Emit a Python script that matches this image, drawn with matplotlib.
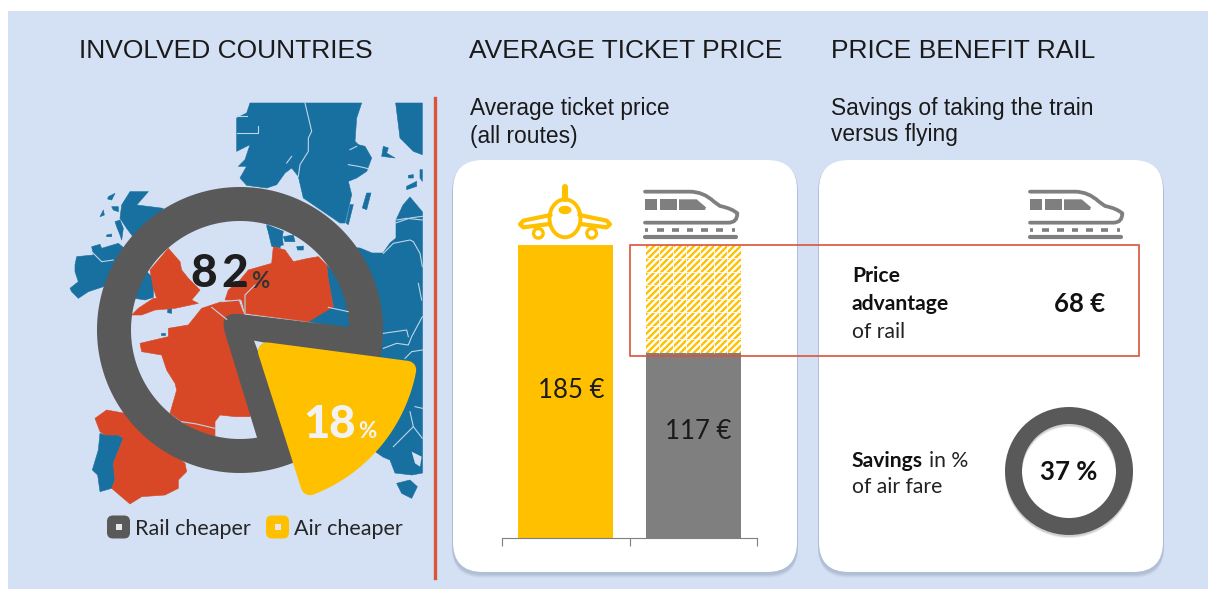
#!/usr/bin/env python

import numpy as np
import matplotlib
matplotlib.use("Agg")
import matplotlib.pyplot as plt
from matplotlib.patches import Circle, FancyBboxPatch, PathPatch, Polygon, Rectangle
from matplotlib.path import Path

plt.rcParams["hatch.linewidth"] = 1.7

# values
share_labels = ["Rail cheaper", "Air cheaper"]
share_values = [82, 18]
price_labels = ["Air", "Rail"]
price_values = [185, 117]
advantage = 68
savings_pct = 37

SEA = "#D4E0F3"
BLUE = "#17709F"
RED = "#D84826"
DARK = "#595959"
GREY = "#7F7F7F"
YELLOW = "#FFC000"
LINE_RED = "#D9553A"
ARIAL = "Liberation Sans"
BODY = "Lato"

CROP_HOLE = (125, 220)
CROP_NORTH = (230, 98)
CROP_WEST = (65, 185)
CROP_SPAIN = (85, 400)
CROP_EAST = (340, 210)

blue_shapes = [
    (CROP_NORTH, [(60,15),(395,15),(380,60),(375,130),(385,140),(405,145),(425,180),(410,220),(380,240),(355,250),
                  (365,290),(345,375),(330,375),(220,300),(205,235),(185,210),(165,225),(140,260),(110,270),(50,262),
                  (30,240),(50,205),(25,205),(45,185),(60,140),(20,160),(20,90),(20,60),(50,45)]),
    (CROP_NORTH, [(497,15),(577,15),(577,170),(550,160),(510,120)]),
    (CROP_NORTH, [(410,285),(423,285),(410,335),(397,330)]),
    (CROP_NORTH, [(360,320),(370,320),(355,380),(348,375)]),
    (CROP_NORTH, [(460,145),(475,150),(470,165),(495,180),(455,175)]),
    (CROP_NORTH, [(530,265),(560,250),(560,265),(530,275)]),
    (CROP_NORTH, [(535,232),(550,230),(550,240),(535,240)]),
    (CROP_NORTH, [(570,215),(577,215),(577,250),(570,240)]),
    (CROP_NORTH, [(110,380),(160,400),(150,450),(125,445)]),
    ((0, 0), [(340,247),(360,248),(372,253),(383,253),(390,243),(396,238),(396,220),(403,205),(410,197),(422.5,212),
              (422.5,473),(412,475),(395,473),(390,460),(383,457),(330,420),(350,300)]),
    (CROP_EAST, [(170,820),(210,810),(232,830),(215,865),(185,850)]),
    (CROP_HOLE, [(605,135),(650,180),(690,330),(550,305),(610,262),(625,260),(610,180)]),
    (CROP_HOLE, [(425,20),(470,40),(475,75),(445,80),(440,60)]),
    (CROP_HOLE, [(475,50),(505,45),(510,65),(480,65)]),
    (CROP_HOLE, [(515,80),(535,78),(535,90),(518,90)]),
    (CROP_HOLE, [(30,235),(60,150),(85,175),(85,232),(60,240)]),
    (CROP_HOLE, [(128,268),(140,265),(140,280),(128,278)]),
    (CROP_HOLE, [(108,340),(120,340),(120,346),(108,346)]),
    (CROP_WEST, [(35,215),(85,210),(80,185),(105,178),(110,190),(160,175),(190,200),(150,250),(130,300),(70,320),
                 (40,340),(20,320),(15,310),(40,290),(30,260),(30,240)]),
    (CROP_WEST, [(195,20),(250,20),(215,60),(295,70),(260,130),(215,170),(185,130),(165,100),(170,60)]),
    (CROP_WEST, [(130,35),(150,25),(140,45),(128,42)]),
    (CROP_WEST, [(140,65),(160,65),(160,80),(145,75)]),
    (CROP_WEST, [(105,95),(115,75),(118,90)]),
    (CROP_WEST, [(150,110),(165,105),(175,130),(170,165),(165,150),(155,125)]),
    (CROP_WEST, [(125,150),(140,147),(140,155),(125,155)]),
    (CROP_SPAIN, [(45,100),(60,105),(100,105),(115,115),(85,190),(90,240),(80,265),(45,275),(38,225),(22,210),(40,150)]),
]
red_shapes = [
    (CROP_HOLE, [(130,85),(165,125),(170,150),(190,175),(225,210),(200,240),(220,250),(150,265),(90,270),(50,285),
                 (20,285),(40,265),(85,235),(95,235),(85,205),(75,150)]),
    (CROP_HOLE, [(45,370),(130,350),(130,325),(190,315),(230,265),(260,255),(290,245),(340,240),(360,290),(400,500),
                 (375,590),(330,590),(285,585),(270,605),(270,650),(220,640),(170,605),(135,580),(155,510),(150,490),
                 (125,450),(110,405),(50,395)]),
    (CROP_HOLE, [(310,210),(345,180),(370,150),(440,130),(445,80),(480,90),(505,125),(550,115),(580,110),(605,135),
                 (610,180),(625,260),(550,305),(360,280),(350,240),(300,240)]),
    (CROP_SPAIN, [(30,55),(65,30),(120,40),(200,100),(300,190),(305,215),(280,240),(280,265),(240,285),(170,290),
                  (135,312),(115,295),(80,265),(90,240),(85,190),(115,115),(100,105),(60,105),(45,95)]),
]
sea_shapes = [
    (CROP_EAST, [(215,725),(245,740),(240,770),(225,760)]),
]
border_lines = [
    (CROP_NORTH, [(225,15),(245,100),(235,120),(235,160),(210,200),(205,235)]),
    (CROP_NORTH, [(360,155),(380,145)]),
    (CROP_NORTH, [(355,200),(385,205),(415,212)]),
    (CROP_NORTH, [(20,55),(50,55)]),
    (CROP_NORTH, [(20,105),(85,105),(85,85)]),
    (CROP_NORTH, [(170,195),(185,175)]),
    (CROP_NORTH, [(497,375),(540,360),(577,355)]),
    (CROP_HOLE, [(610,262),(670,275)]),
    (CROP_HOLE, [(260,262),(305,298)]),
    (CROP_HOLE, [(290,245),(345,240),(355,272)]),
    (CROP_HOLE, [(360,280),(360,225),(390,195)]),
    (CROP_HOLE, [(170,605),(215,612),(270,625)]),
    (CROP_WEST, [(80,200),(110,230),(145,225)]),
    (CROP_EAST, [(170,30),(200,25),(247,30)]),
    (CROP_EAST, [(130,130),(160,100),(210,90),(220,95),(240,130),(247,170)]),
    (CROP_EAST, [(235,220),(245,270)]),
    (CROP_EAST, [(130,370),(200,360),(205,380)]),
    (CROP_EAST, [(130,415),(170,400),(205,405),(215,380),(247,320)]),
    (CROP_EAST, [(195,445),(215,425),(247,420)]),
    (CROP_EAST, [(225,590),(247,595)]),
    (CROP_EAST, [(210,605),(220,650),(160,710)]),
    (CROP_EAST, [(220,650),(247,685)]),
]


def crop_pts(origin, pts):
    return [(origin[0] + x / 3, origin[1] + y / 3) if origin != (0, 0) else (x, y) for x, y in pts]


def arc(cx, cy, r, a0, a1, n=90):
    t = np.radians(np.linspace(a0, a1, n))
    return np.column_stack([cx + r * np.cos(t), cy + r * np.sin(t)])


def draw_card(ax, x0, y0, x1, y1, r=30):
    box = "round,pad=0,rounding_size=%d" % r
    for off, alpha in [(5, 0.05), (4, 0.08), (3, 0.10), (2, 0.14)]:
        ax.add_patch(FancyBboxPatch((x0 - 1, y0 + off - 1), x1 - x0 + 2, y1 - y0 + 2, boxstyle=box,
                                    fc="#6E7F99", ec="none", alpha=alpha))
    ax.add_patch(FancyBboxPatch((x0, y0), x1 - x0, y1 - y0, boxstyle=box, fc="white", ec="none"))


def draw_train(ax, dx):
    # 3x crop at (490, 170)
    def t(pts):
        return [(490 + x / 3 + dx, 170 + y / 3) for x, y in pts]
    body = [(465,65),(600,65),(640,65),(672,95),(690,108),(725,115),(742,130),(742,158),(715,158),(465,158)]
    verts = t(body)
    codes = [Path.MOVETO, Path.LINETO, Path.CURVE3, Path.CURVE3, Path.LINETO, Path.CURVE3, Path.CURVE3,
             Path.CURVE3, Path.CURVE3, Path.LINETO]
    ax.add_patch(PathPatch(Path(verts, codes), fc="none", ec=GREY, lw=2.7, capstyle="round", joinstyle="round"))
    for win in ([(465,88),(500,88),(500,120),(465,120)], [(510,88),(560,88),(560,120),(510,120)],
                [(567,88),(620,88),(648,112),(645,120),(567,120)]):
        ax.add_patch(Polygon(t(win), fc=GREY, ec="none"))
    ax.plot(*zip(*t([(464,200),(738,200)])), color=GREY, lw=3, solid_capstyle="round")
    for x in [470, 512, 556, 600, 644, 688, 730]:
        w = 4 if x in (470, 730) else 10
        ax.plot(*zip(*t([(x - w, 181),(x + w, 181)])), color=GREY, lw=2.6, solid_capstyle="butt")


def draw_plane(ax):
    def t(pts):
        return [(490 + x / 3, 170 + y / 3) for x, y in pts]
    kw = dict(color=YELLOW, lw=3, solid_capstyle="round", solid_joinstyle="round")
    ax.plot(*zip(*t([(225,50),(225,88)])), color=YELLOW, lw=4.4, solid_capstyle="round")
    ax.plot(*zip(*t([(182,135),(100,152),(90,163),(100,172),(178,162)])), **kw)
    ax.plot(*zip(*t([(268,135),(350,152),(360,163),(350,172),(272,162)])), **kw)
    for wx in (145, 305):
        cx, cy = t([(wx, 190)])[0]
        ax.add_patch(Circle((cx, cy), 4.8, fc="white", ec=YELLOW, lw=2.4))
    cx, cy = t([(225, 145)])[0]
    body = arc(cx, cy, 15.5, 0, 360)
    body[:, 1] = cy + (body[:, 1] - cy) * 1.22
    ax.add_patch(Polygon(body, fc="white", ec=YELLOW, lw=2.8))
    cx, cy = t([(225, 120)])[0]
    wind = arc(cx, cy, 6.5, 0, 360)
    wind[:, 1] = cy + (wind[:, 1] - cy) * 0.65
    ax.add_patch(Polygon(wind, fc=YELLOW, ec="none"))


fig = plt.figure(figsize=(12.16, 5.89), dpi=100, facecolor="white")
bg = fig.add_axes([0, 0, 1, 1], zorder=0)
bg.set_xlim(0, 1216)
bg.set_ylim(589, 0)
bg.axis("off")
bg.add_patch(Rectangle((8, 11), 1200, 578, fc=SEA, ec="none"))

# map
for origin, pts in blue_shapes:
    bg.add_patch(Polygon(crop_pts(origin, pts), fc=BLUE, ec=BLUE, lw=0.4, joinstyle="round"))
for origin, pts in red_shapes:
    bg.add_patch(Polygon(crop_pts(origin, pts), fc=RED, ec=RED, lw=0.4, joinstyle="round"))
for origin, pts in sea_shapes:
    bg.add_patch(Polygon(crop_pts(origin, pts), fc=SEA, ec="none"))
for origin, pts in border_lines:
    bg.plot(*zip(*crop_pts(origin, pts)), color="#BFD4E8", lw=0.8)

# share pie, the air slice pulled out of the rail ring
air_span = share_values[1] / 100 * 360
air_start = 7.5
air_mid = air_start + air_span / 2
cx, cy = 240, 330
outer_r, inner_r = 143, 109
ax_, ay_ = 254, 340.6

gap = air_span * 0.4
outer = arc(cx, cy, outer_r, air_mid - gap, air_mid + gap - 360, 200)
hole = arc(cx, cy, inner_r, -279, -1.6, 200)
verts = list(outer) + [(ax_, ay_), tuple(outer[0])]
codes = [Path.MOVETO] + [Path.LINETO] * (len(outer) - 1) + [Path.LINETO, Path.CLOSEPOLY]
verts += list(hole) + [(240, 314), (218.5, 311.5), (225, 333), tuple(hole[0])]
codes += [Path.MOVETO] + [Path.LINETO] * (len(hole) - 1) + [Path.LINETO, Path.CURVE3, Path.CURVE3, Path.CLOSEPOLY]
bg.add_patch(PathPatch(Path(verts, codes), fc=DARK, ec="none"))

rr = 9
big_r = 165
tip = (ax_ + rr / np.sin(np.radians(air_span / 2)) * np.cos(np.radians(air_mid)),
       ay_ + rr / np.sin(np.radians(air_span / 2)) * np.sin(np.radians(air_mid)))
shrink = np.degrees(np.arcsin(rr / (big_r - rr)))
rim = arc(ax_, ay_, big_r - rr, air_start + shrink, air_start + air_span - shrink, 60)
bg.add_patch(Polygon([tip] + list(rim), fc=YELLOW, ec=YELLOW, lw=2 * rr * 0.72, joinstyle="round"))

# the big digits are set wide apart in the original
rail_txt, air_txt = str(share_values[0]), str(share_values[1])
bg.text(190, 274, rail_txt[0], fontsize=33, fontweight="black", family=BODY, color="#1E1E1E", va="center", ha="left")
bg.text(221, 274, rail_txt[1], fontsize=33, fontweight="black", family=BODY, color="#1E1E1E", va="center", ha="left")
bg.text(251, 282, "%", fontsize=16, fontweight="bold", family=BODY, color="#333333", va="center", ha="left")
bg.text(303, 425, air_txt[0], fontsize=33, fontweight="black", family=BODY, color="#F2F2F2", va="center", ha="left")
bg.text(328, 425, air_txt[1], fontsize=33, fontweight="black", family=BODY, color="#F2F2F2", va="center", ha="left")
bg.text(358, 432, "%", fontsize=16, fontweight="bold", family=BODY, color="#F2F2F2", va="center", ha="left")

# legend
for x0, col, label, tx in [(107, DARK, share_labels[0], 135), (266, YELLOW, share_labels[1], 294)]:
    bg.add_patch(FancyBboxPatch((x0, 515.5), 23, 23, boxstyle="round,pad=0,rounding_size=6", fc=col, ec="none"))
    bg.add_patch(Rectangle((x0 + 9, 524), 6, 6, fc="#E8E8E8", ec="none"))
    bg.text(tx, 529, label, fontsize=15.5, family=BODY, color="#262626", va="center", ha="left")

# headings
for x, s in [(79, "INVOLVED COUNTRIES"), (469, "AVERAGE TICKET PRICE"), (831, "PRICE BENEFIT RAIL")]:
    bg.text(x, 51, s, fontsize=19, family=ARIAL, color="#1A1A1A", va="center", ha="left")
bg.text(470, 109, "Average ticket price", fontsize=16.4, family=ARIAL, color="#1A1A1A", va="center")
bg.text(470, 136, "(all routes)", fontsize=16.4, family=ARIAL, color="#1A1A1A", va="center")
bg.text(831, 108, "Savings of taking the train", fontsize=16.4, family=ARIAL, color="#1A1A1A", va="center")
bg.text(831, 134, "versus flying", fontsize=16.4, family=ARIAL, color="#1A1A1A", va="center")

bg.plot([434.5, 434.5], [98, 578], color=LINE_RED, lw=2.4)

draw_card(bg, 453, 160, 797, 572)
draw_card(bg, 819, 160, 1163, 572)
draw_plane(bg)
draw_train(bg, 0)
draw_train(bg, 385)

# savings ring
for off, alpha in [(3, 0.10), (2, 0.14)]:
    bg.add_patch(Circle((1069, 471 + off), 55.5, fc="none", ec="#333333", lw=12.2, alpha=alpha))
bg.add_patch(Circle((1069, 471), 55.5, fc="none", ec=DARK, lw=12.2))

# price bars
ax = fig.add_axes([502 / 1216, 1 - 538 / 589, 255 / 1216, 293 / 589], zorder=1)
ax.patch.set_alpha(0)
x_pos = [0, 1]
bar_w = 0.745
ax.bar(x_pos[0], price_values[0], width=bar_w, color=YELLOW)
ax.bar(x_pos[1], price_values[1], width=bar_w, color=GREY)
ax.bar(x_pos[1], advantage, width=bar_w, bottom=price_values[1], facecolor="white",
       edgecolor=YELLOW, hatch="/////", lw=0)
# faint tile seams over the hatched part
ax.vlines(x_pos[1] + np.linspace(-bar_w / 2, bar_w / 2, 8)[1:-1], price_values[1], price_values[0],
          color="white", lw=0.6)
ax.hlines(price_values[1] + np.linspace(0, advantage, 9)[1:-1], x_pos[1] - bar_w / 2, x_pos[1] + bar_w / 2,
          color="white", lw=0.6)
ax.set_xlim(-0.5, 1.5)
ax.set_ylim(0, price_values[0])
ax.set_xticks([-0.5, 0.5, 1.5])
ax.set_xticklabels([])
ax.set_yticks([])
ax.tick_params(axis="x", length=6, width=0.8, color="#7F7F7F")
for side in ["top", "left", "right"]:
    ax.spines[side].set_visible(False)
ax.spines["bottom"].set_color("#7F7F7F")
ax.spines["bottom"].set_linewidth(0.8)
ax.text(x_pos[0] + 0.04, 93, "%d €" % price_values[0], fontsize=18.5, family=BODY, color="#1A1A1A", ha="center", va="center")
ax.text(x_pos[1] + 0.04, 67, "%d €" % price_values[1], fontsize=18.5, family=BODY, color="#1A1A1A", ha="center", va="center")

# top layer: highlight box and right card texts
top = fig.add_axes([0, 0, 1, 1], zorder=2)
top.set_xlim(0, 1216)
top.set_ylim(589, 0)
top.axis("off")
top.add_patch(Rectangle((630, 245), 509, 111, fc="none", ec=LINE_RED, lw=1.2))

top.text(852, 276, "Price", fontsize=15.2, fontweight="bold", family=BODY, color="#111111", va="center")
top.text(852, 304, "advantage", fontsize=15.2, fontweight="bold", family=BODY, color="#111111", va="center")
top.text(852, 332, "of rail", fontsize=15.2, family=BODY, color="#222222", va="center")
top.text(1080, 304, "%d €" % advantage, fontsize=18.5, fontweight="bold", family=BODY, color="#111111", va="center", ha="center")
top.text(852, 461, "Savings", fontsize=15.2, fontweight="bold", family=BODY, color="#111111", va="center")
top.text(929, 461, "in %", fontsize=15.2, family=BODY, color="#222222", va="center")
top.text(852, 487, "of air fare", fontsize=15.2, family=BODY, color="#222222", va="center")
top.text(1069, 472, "%d %%" % savings_pct, fontsize=18.5, fontweight="bold", family=BODY, color="#111111", va="center", ha="center")

fig.savefig("out.png", dpi=100, facecolor="white")
